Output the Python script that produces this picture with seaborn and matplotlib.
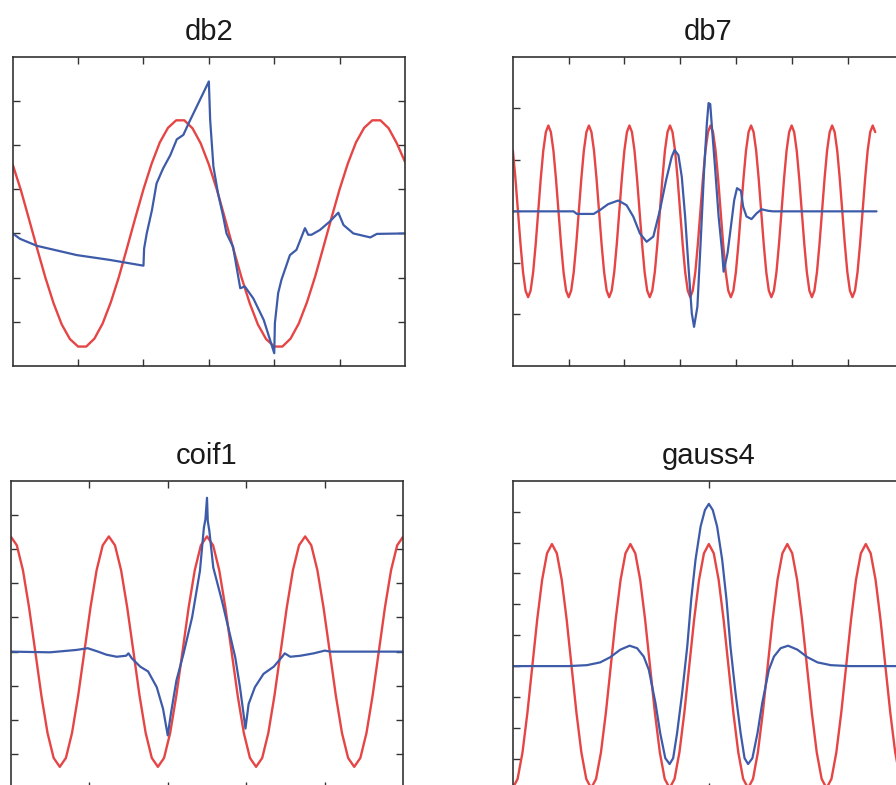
import matplotlib
matplotlib.use("Agg")
import matplotlib.pyplot as plt
import seaborn as sns
import pandas as pd

# ---------------- data ----------------
TITLES = ["db2", "db7", "coif1", "gauss4"]

# db2 panel
DB2_SINE_X = [0, 0.125, 0.25, 0.375, 0.5, 0.625, 0.75, 0.875, 1.0, 1.125, 1.25, 1.375,
              1.5, 1.625, 1.75, 1.875, 2.0, 2.125, 2.25, 2.375, 2.5, 2.625, 2.75, 2.875,
              3.0, 3.125, 3.25, 3.375, 3.5, 3.625, 3.75, 3.875, 4.0, 4.125, 4.25, 4.375,
              4.5, 4.625, 4.75, 4.875, 5.0, 5.125, 5.25, 5.375, 5.5, 5.625, 5.75, 5.875, 6.0]
DB2_SINE_Y = [1.56, 0.98, 0.32, -0.35, -1.00, -1.58, -2.06, -2.39, -2.56, -2.56, -2.38, -2.04,
              -1.56, -0.98, -0.32, 0.35, 1.00, 1.58, 2.06, 2.39, 2.56, 2.56, 2.38, 2.04,
              1.56, 0.98, 0.32, -0.35, -1.00, -1.58, -2.06, -2.39, -2.56, -2.56, -2.38, -2.04,
              -1.56, -0.98, -0.32, 0.35, 1.00, 1.58, 2.06, 2.39, 2.56, 2.56, 2.38, 2.04, 1.62]
DB2_WAVE_X = [0, 0.11, 0.37, 0.98, 1.49, 2.00, 2.01, 2.05, 2.13, 2.20, 2.30, 2.41, 2.51, 2.61,
              2.69, 3.00, 3.02, 3.07, 3.14, 3.22, 3.27, 3.37, 3.48, 3.55, 3.68, 3.84, 4.00,
              4.01, 4.06, 4.11, 4.24, 4.34, 4.47, 4.52, 4.57, 4.70, 4.85, 4.98, 5.06, 5.21,
              5.47, 5.57, 6.0]
DB2_WAVE_Y = [0, -0.12, -0.28, -0.49, -0.60, -0.73, -0.34, 0.0, 0.53, 1.13, 1.47, 1.77, 2.13,
              2.23, 2.49, 3.44, 2.57, 1.51, 0.91, 0.38, 0.0, -0.30, -1.24, -1.20, -1.47, -1.96,
              -2.71, -2.03, -1.35, -1.05, -0.49, -0.37, 0.12, -0.03, -0.03, 0.08, 0.27, 0.47,
              0.19, 0.0, -0.09, -0.01, 0.0]

# db7 panel
DB7_SINE_X = [0.003, 0.049, 0.094, 0.140, 0.185, 0.230,
              0.276, 0.321, 0.367, 0.412, 0.457, 0.503, 0.548, 0.594, 0.639, 0.684, 0.730, 0.775, 0.821, 0.866, 0.911, 0.957,
              1.003, 1.048, 1.094, 1.139, 1.184, 1.230, 1.275, 1.321, 1.366, 1.411, 1.457, 1.502, 1.548, 1.593, 1.638, 1.684,
              1.729, 1.774, 1.820, 1.865, 1.910, 1.956, 2.001, 2.047, 2.092, 2.137, 2.183, 2.228, 2.274, 2.319, 2.364, 2.410,
              2.456, 2.501, 2.547, 2.592, 2.637, 2.683, 2.728, 2.774, 2.819, 2.864, 2.910, 2.955, 3.001, 3.046, 3.091, 3.137,
              3.182, 3.227, 3.273, 3.318, 3.363, 3.409, 3.454, 3.500, 3.545, 3.590, 3.636, 3.681, 3.727, 3.772, 3.817, 3.863,
              3.909, 3.954, 4.000, 4.045, 4.090, 4.136, 4.181, 4.227, 4.272, 4.317, 4.363, 4.408, 4.454, 4.499, 4.544, 4.590,
              4.636, 4.681, 4.727, 4.772, 4.817, 4.863, 4.908, 4.954, 4.999, 5.044, 5.090, 5.135, 5.181, 5.226, 5.271, 5.317,
              5.362, 5.407, 5.453, 5.498, 5.543, 5.589, 5.634, 5.680, 5.725, 5.770, 5.816, 5.861, 5.907, 5.952, 5.997, 6.043,
              6.089, 6.134, 6.180, 6.225, 6.270, 6.316, 6.361, 6.407, 6.452, 6.497]
DB7_SINE_Y = [1.177, 0.637, 0, -0.637, -1.177, -1.538,
              -1.665, -1.538, -1.177, -0.637, 0, 0.637, 1.177, 1.538, 1.665, 1.538, 1.177, 0.637, 0, -0.637, -1.177, -1.538,
              -1.665, -1.538, -1.177, -0.637, 0, 0.637, 1.177, 1.538, 1.665, 1.538, 1.177, 0.637, 0, -0.637, -1.177, -1.538,
              -1.665, -1.538, -1.177, -0.637, 0, 0.637, 1.177, 1.538, 1.665, 1.538, 1.177, 0.637, 0, -0.637, -1.177, -1.538,
              -1.665, -1.538, -1.177, -0.637, 0, 0.637, 1.177, 1.538, 1.665, 1.538, 1.177, 0.637, 0, -0.637, -1.177, -1.538,
              -1.665, -1.538, -1.177, -0.637, 0, 0.637, 1.177, 1.538, 1.665, 1.538, 1.177, 0.637, 0, -0.637, -1.177, -1.538,
              -1.665, -1.538, -1.177, -0.637, 0, 0.637, 1.177, 1.538, 1.665, 1.538, 1.177, 0.637, 0, -0.637, -1.177, -1.538,
              -1.665, -1.538, -1.177, -0.637, 0, 0.637, 1.177, 1.538, 1.665, 1.538, 1.177, 0.637, 0, -0.637, -1.177, -1.538,
              -1.665, -1.538, -1.177, -0.637, 0, 0.637, 1.177, 1.538, 1.665, 1.538, 1.177, 0.637, 0, -0.637, -1.177, -1.538,
              -1.665, -1.538, -1.177, -0.637, 0, 0.637, 1.177, 1.538, 1.665, 1.538]
DB7_WAVE_X = [0, 1.09, 1.15, 1.45, 1.57, 1.71, 1.89, 2.04, 2.16, 2.28, 2.40, 2.52, 2.64, 2.75,
              2.85, 2.90, 2.97, 3.03, 3.09, 3.15, 3.21, 3.25, 3.31, 3.37, 3.43, 3.48, 3.51,
              3.54, 3.57, 3.63, 3.69, 3.75, 3.78, 3.85, 3.91, 3.97, 4.02, 4.09, 4.13, 4.19,
              4.28, 4.37, 4.46, 4.58, 4.67, 6.52]
DB7_WAVE_Y = [0, 0, -0.05, -0.05, 0.03, 0.14, 0.21, 0.12, -0.10, -0.43, -0.59, -0.49, 0.03,
              0.61, 1.06, 1.19, 1.09, 0.67, -0.10, -1.07, -1.98, -2.24, -1.85, -0.56, 0.80,
              1.71, 2.10, 2.08, 1.64, 0.80, -0.10, -0.75, -1.17, -0.81, -0.30, 0.22, 0.45,
              0.40, 0.09, -0.10, -0.15, -0.04, 0.04, 0.01, 0, 0]

# coif1 panel
COIF1_SINE_X = [0, 0.078, 0.156, 0.234, 0.313, 0.391, 0.469, 0.547, 0.625, 0.703, 0.781, 0.859,
                0.938, 1.016, 1.094, 1.172, 1.25, 1.328, 1.406, 1.484, 1.563, 1.641, 1.719, 1.797,
                1.875, 1.953, 2.031, 2.109, 2.188, 2.266, 2.344, 2.422, 2.5, 2.578, 2.656, 2.734,
                2.813, 2.891, 2.969, 3.047, 3.125, 3.203, 3.281, 3.359, 3.438, 3.516, 3.594, 3.672,
                3.75, 3.828, 3.906, 3.984, 4.063, 4.141, 4.219, 4.297, 4.375, 4.453, 4.531, 4.609,
                4.688, 4.766, 4.844, 4.922, 5.0]
COIF1_SINE_Y = [3.37, 3.11, 2.38, 1.29, 0, -1.29, -2.38, -3.11, -3.37, -3.11, -2.38, -1.29, 0, 1.29, 2.38, 3.11,
                3.37, 3.11, 2.38, 1.29, 0, -1.29, -2.38, -3.11, -3.37, -3.11, -2.38, -1.29, 0, 1.29, 2.38, 3.11,
                3.37, 3.11, 2.38, 1.29, 0, -1.29, -2.38, -3.11, -3.37, -3.11, -2.38, -1.29, 0, 1.29, 2.38, 3.11,
                3.37, 3.11, 2.38, 1.29, 0, -1.29, -2.38, -3.11, -3.37, -3.11, -2.38, -1.29, 0, 1.29, 2.38, 3.11,
                3.37]
COIF1_WAVE_X = [0, 0.50, 0.84, 0.98, 1.10, 1.22, 1.35, 1.47, 1.50, 1.54, 1.65, 1.75, 1.86, 1.94,
                2.00, 2.04, 2.11, 2.20, 2.31, 2.41, 2.46, 2.48, 2.50, 2.51, 2.53, 2.58, 2.69,
                2.79, 2.86, 2.92, 2.99, 3.03, 3.11, 3.22, 3.35, 3.45, 3.49, 3.56, 3.69, 3.86,
                4.00, 4.07, 5.0]
COIF1_WAVE_Y = [0, -0.02, 0.05, 0.10, 0.01, -0.09, -0.15, -0.12, -0.05, -0.19, -0.44, -0.58,
                -1.04, -1.67, -2.45, -1.82, -0.85, -0.07, 1.00, 2.36, 3.62, 3.87, 4.50, 3.82,
                3.53, 2.46, 1.49, 0.52, -0.17, -1.04, -2.25, -1.53, -1.04, -0.65, -0.44, -0.17,
                -0.05, -0.15, -0.12, -0.05, 0.03, 0, 0]

# gauss4 panel
GAUSS4_SINE_X = [-5.0, -4.875, -4.75, -4.625, -4.5, -4.375, -4.25, -4.125, -4.0, -3.875, -3.75,
                 -3.625, -3.5, -3.375, -3.25, -3.125, -3.0, -2.875, -2.75, -2.625, -2.5, -2.375,
                 -2.25, -2.125, -2.0, -1.875, -1.75, -1.625, -1.5, -1.375, -1.25, -1.125, -1.0,
                 -0.875, -0.75, -0.625, -0.5, -0.375, -0.25, -0.125, 0.0, 0.125, 0.25, 0.375,
                 0.5, 0.625, 0.75, 0.875, 1.0, 1.125, 1.25, 1.375, 1.5, 1.625, 1.75, 1.875, 2.0,
                 2.125, 2.25, 2.375, 2.5, 2.625, 2.75, 2.875, 3.0, 3.125, 3.25, 3.375, 3.5,
                 3.625, 3.75, 3.875, 4.0, 4.125, 4.25, 4.375, 4.5, 4.625, 4.75, 4.875, 5.0]
GAUSS4_SINE_Y = [-3.95, -3.65, -2.79, -1.51, 0, 1.51, 2.79, 3.65, 3.95, 3.65, 2.79, 1.51, 0, -1.51, -2.79, -3.65,
                 -3.95, -3.65, -2.79, -1.51, 0, 1.51, 2.79, 3.65, 3.95, 3.65, 2.79, 1.51, 0, -1.51, -2.79, -3.65,
                 -3.95, -3.65, -2.79, -1.51, 0, 1.51, 2.79, 3.65, 3.95, 3.65, 2.79, 1.51, 0, -1.51, -2.79, -3.65,
                 -3.95, -3.65, -2.79, -1.51, 0, 1.51, 2.79, 3.65, 3.95, 3.65, 2.79, 1.51, 0, -1.51, -2.79, -3.65,
                 -3.95, -3.65, -2.79, -1.51, 0, 1.51, 2.79, 3.65, 3.95, 3.65, 2.79, 1.51, 0, -1.51, -2.79, -3.65,
                 -3.95]
GAUSS4_WAVE_X = [-5, -3.58, -3.11, -2.77, -2.51, -2.26, -2.02, -1.83, -1.66, -1.53, -1.36, -1.24,
                 -1.11, -1.00, -0.91, -0.81, -0.68, -0.55, -0.45, -0.34, -0.21, -0.10, 0,
                 0.10, 0.21, 0.34, 0.45, 0.55, 0.68, 0.81, 0.91, 1.00, 1.11, 1.24, 1.36, 1.53,
                 1.66, 1.83, 2.02, 2.26, 2.51, 2.77, 3.11, 3.58, 5]
GAUSS4_WAVE_Y = [0, 0, 0.03, 0.12, 0.29, 0.53, 0.66, 0.58, 0.31, -0.12, -1.20, -2.17,
                 -2.98, -3.17, -2.98, -2.17, -0.87, 0.64, 2.15, 3.44, 4.52, 5.05, 5.25,
                 5.05, 4.52, 3.44, 2.15, 0.64, -0.87, -2.17, -2.98, -3.17, -2.98, -2.17, -1.20,
                 -0.12, 0.31, 0.58, 0.66, 0.53, 0.29, 0.12, 0.03, 0, 0]

# ---------------- styling ----------------
RED = "#E64545"
BLUE = "#3D5BA9"
FRAME = "#333333"

sns.set_theme(style="white")
plt.rcParams["font.family"] = ["Liberation Sans", "DejaVu Sans"]

W, H = 896, 785
fig = plt.figure(figsize=(W / 100, H / 100), dpi=100)


def frac(left, top, right, bottom):
    return [left / W, 1 - bottom / H, (right - left) / W, (bottom - top) / H]


panels = [
    dict(title=TITLES[0], sx=DB2_SINE_X, sy=DB2_SINE_Y, wx=DB2_WAVE_X, wy=DB2_WAVE_Y,
         pos=frac(12.7, 56.7, 405.0, 366.0), xlim=(0, 6), ylim=(-3, 4),
         xt=[1, 2, 3, 4, 5], yt=[-2, -1, 0, 1, 2, 3]),
    dict(title=TITLES[1], sx=DB7_SINE_X, sy=DB7_SINE_Y, wx=DB7_WAVE_X, wy=DB7_WAVE_Y,
         pos=frac(512.7, 56.7, 903.3, 366.0), xlim=(0, 7), ylim=(-3, 3),
         xt=[1, 2, 3, 4, 5, 6], yt=[-2, -1, 0, 1, 2]),
    dict(title=TITLES[2], sx=COIF1_SINE_X, sy=COIF1_SINE_Y, wx=COIF1_WAVE_X, wy=COIF1_WAVE_Y,
         pos=frac(10.7, 480.7, 403.3, 789.4), xlim=(0, 5), ylim=(-4.03, 5),
         xt=[1, 2, 3, 4], yt=[-3, -2, -1, 0, 1, 2, 3, 4]),
    dict(title=TITLES[3], sx=GAUSS4_SINE_X, sy=GAUSS4_SINE_Y, wx=GAUSS4_WAVE_X, wy=GAUSS4_WAVE_Y,
         pos=frac(512.7, 480.7, 905.0, 789.7), xlim=(-5, 5), ylim=(-4, 6),
         xt=[0], yt=[-3, -2, -1, 0, 1, 2, 3, 4, 5]),
]

for p in panels:
    ax = fig.add_axes(p["pos"])
    sine = pd.DataFrame({"t": p["sx"], "v": p["sy"]})
    wave = pd.DataFrame({"t": p["wx"], "v": p["wy"]})
    sns.lineplot(data=sine, x="t", y="v", ax=ax, color=RED, lw=1.7,
                 estimator=None, sort=False)
    sns.lineplot(data=wave, x="t", y="v", ax=ax, color=BLUE, lw=1.6,
                 estimator=None, sort=False)
    ax.set_xlim(*p["xlim"])
    ax.set_ylim(*p["ylim"])
    ax.set_xticks(p["xt"])
    ax.set_yticks(p["yt"])
    ax.set_xlabel("")
    ax.set_ylabel("")
    ax.tick_params(direction="in", length=5, width=1, color=FRAME,
                   top=True, right=True, bottom=True, left=True,
                   labelbottom=False, labelleft=False)
    for s in ax.spines.values():
        s.set_visible(True)
        s.set_color(FRAME)
        s.set_linewidth(1.2)
    ax.set_title(p["title"], fontsize=21, pad=12, color="#1a1a1a")

fig.savefig("out.png", dpi=100)
